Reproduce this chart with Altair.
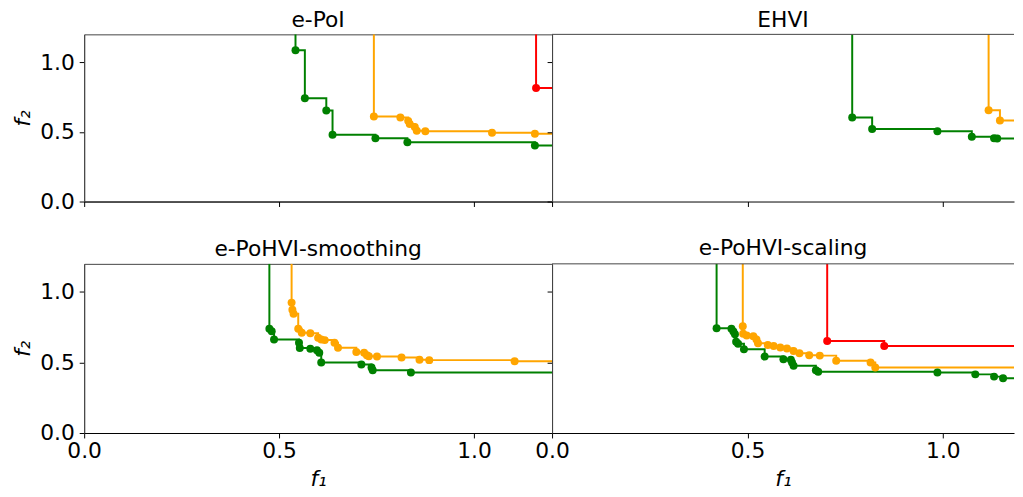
import altair as alt
import pandas as pd

# ---------------- data ----------------
PANELS = ["e-PoI", "EHVI", "e-PoHVI-smoothing", "e-PoHVI-scaling"]
SERIES_COLORS = ["green", "orange", "red"]

# e-PoI
EPOI_GREEN_F1 = [0.542, 0.566, 0.621, 0.637, 0.747, 0.829, 1.156]
EPOI_GREEN_F2 = [1.086, 0.741, 0.654, 0.479, 0.455, 0.425, 0.402]
EPOI_ORANGE_F1 = [0.743, 0.811, 0.831, 0.835, 0.848, 0.853, 0.875, 1.046, 1.156]
EPOI_ORANGE_F2 = [0.610, 0.603, 0.579, 0.556, 0.535, 0.508, 0.505, 0.493, 0.486]
EPOI_RED_F1 = [1.159]
EPOI_RED_F2 = [0.815]

# EHVI
EHVI_GREEN_F1 = [0.768, 0.819, 0.986, 1.074, 1.131, 1.139]
EHVI_GREEN_F2 = [0.603, 0.521, 0.505, 0.465, 0.455, 0.453]
EHVI_ORANGE_F1 = [1.117, 1.146]
EHVI_ORANGE_F2 = [0.656, 0.582]

# e-PoHVI-smoothing
SMOOTH_GREEN_F1 = [0.475, 0.481, 0.487, 0.551, 0.553, 0.580, 0.597, 0.603, 0.608,
                   0.711, 0.737, 0.740, 0.838]
SMOOTH_GREEN_F2 = [0.739, 0.722, 0.664, 0.640, 0.603, 0.598, 0.587, 0.570, 0.500,
                   0.486, 0.465, 0.446, 0.430]
SMOOTH_ORANGE_F1 = [0.532, 0.534, 0.537, 0.549, 0.558, 0.580, 0.600, 0.608, 0.617,
                    0.642, 0.651, 0.698, 0.718, 0.725, 0.730, 0.751, 0.814, 0.860,
                    0.885, 1.104]
SMOOTH_ORANGE_F2 = [0.925, 0.874, 0.846, 0.739, 0.711, 0.708, 0.676, 0.664, 0.659,
                    0.640, 0.605, 0.575, 0.570, 0.552, 0.545, 0.542, 0.535, 0.519,
                    0.517, 0.509]

# e-PoHVI-scaling
SCALE_GREEN_F1 = [0.421, 0.459, 0.464, 0.468, 0.471, 0.476, 0.491, 0.544, 0.592,
                  0.611, 0.614, 0.618, 0.675, 0.681, 0.986, 1.083, 1.131, 1.154]
SCALE_GREEN_F2 = [0.743, 0.739, 0.720, 0.701, 0.648, 0.634, 0.594, 0.542, 0.524,
                  0.519, 0.500, 0.477, 0.446, 0.434, 0.430, 0.416, 0.400, 0.388]
SCALE_ORANGE_F1 = [0.488, 0.489, 0.498, 0.515, 0.523, 0.527, 0.552, 0.567, 0.584,
                   0.601, 0.618, 0.633, 0.658, 0.685, 0.727, 0.815, 0.827]
SCALE_ORANGE_F2 = [0.757, 0.704, 0.692, 0.687, 0.664, 0.636, 0.624, 0.617, 0.606,
                   0.599, 0.582, 0.566, 0.552, 0.549, 0.512, 0.500, 0.465]
SCALE_RED_F1 = [0.704, 0.850]
SCALE_RED_F2 = [0.652, 0.617]

SERIES = {
    "e-PoI": [("green", EPOI_GREEN_F1, EPOI_GREEN_F2),
              ("orange", EPOI_ORANGE_F1, EPOI_ORANGE_F2),
              ("red", EPOI_RED_F1, EPOI_RED_F2)],
    "EHVI": [("green", EHVI_GREEN_F1, EHVI_GREEN_F2),
             ("orange", EHVI_ORANGE_F1, EHVI_ORANGE_F2)],
    "e-PoHVI-smoothing": [("green", SMOOTH_GREEN_F1, SMOOTH_GREEN_F2),
                          ("orange", SMOOTH_ORANGE_F1, SMOOTH_ORANGE_F2)],
    "e-PoHVI-scaling": [("green", SCALE_GREEN_F1, SCALE_GREEN_F2),
                        ("orange", SCALE_ORANGE_F1, SCALE_ORANGE_F2),
                        ("red", SCALE_RED_F1, SCALE_RED_F2)],
}

X_TICKS = [0.0, 0.5, 1.0]
Y_TICKS = [0.0, 0.5, 1.0]
Y_MAX = 1.2
LEFT_X_MAX = 1.2
RIGHT_X_MAX = 1.182  # right column is cut at the picture edge

FONT = "DejaVu Sans"
FS = 22
PANEL_W_LEFT = 473
PANEL_W_RIGHT = 467
PANEL_H_TOP = 169
PANEL_H_BOTTOM = 171


def panel(name, col, row):
    xmax = LEFT_X_MAX if col == 0 else RIGHT_X_MAX
    pts, steps = [], []
    for color, f1, f2 in SERIES[name]:
        for a, b in zip(f1, f2):
            pts.append({"f1": a, "f2": b, "c": color})
        # staircase reaches the top frame and the right frame
        seq = [(f1[0], Y_MAX)] + list(zip(f1, f2)) + [(xmax, f2[-1])]
        for i, (a, b) in enumerate(seq):
            steps.append({"f1": a, "f2": b, "c": color, "i": i})
    pts_df = pd.DataFrame(pts)
    steps_df = pd.DataFrame(steps)

    xaxis = alt.Axis(values=X_TICKS, format=".1f", grid=False, labels=(row == 1),
                     title="f₁" if row == 1 else None, tickSize=5, labelPadding=3,
                     labelFlush=False, titleFontStyle="italic", titlePadding=7,
                     domainColor="black", tickColor="black")
    yaxis = alt.Axis(values=Y_TICKS, format=".1f", grid=False, labels=(col == 0),
                     title="f₂" if col == 0 else None, tickSize=5, labelPadding=5,
                     titleFontStyle="italic", titlePadding=5,
                     domainColor="#444", tickColor="black")
    x = alt.X("f1:Q", scale=alt.Scale(domain=[0, xmax], nice=False, zero=False), axis=xaxis)
    y = alt.Y("f2:Q", scale=alt.Scale(domain=[0, Y_MAX], nice=False, zero=False), axis=yaxis)

    line = alt.Chart(steps_df).mark_line(interpolate="step-after", strokeWidth=2, clip=True).encode(
        x=x, y=y, color=alt.Color("c:N", scale=None), detail="c:N", order="i:Q")
    dots = alt.Chart(pts_df).mark_point(filled=True, shape="circle", size=65, opacity=1,
                                        clip=True).encode(
        x=x, y=y, color=alt.Color("c:N", scale=None))
    layers = [line, dots]
    props = dict(width=PANEL_W_LEFT if col == 0 else PANEL_W_RIGHT,
                 height=PANEL_H_TOP if row == 0 else PANEL_H_BOTTOM,
                 title=alt.TitleParams(name, fontSize=FS, font=FONT, fontWeight="normal",
                                       baseline="alphabetic", offset=-15 if row == 0 else -14,
                                       color="black", frame="group"))
    if col == 1:
        top = alt.Chart(pd.DataFrame({"f2": [Y_MAX]})).mark_rule(color="#444", strokeWidth=1).encode(
            y=alt.Y("f2:Q", scale=alt.Scale(domain=[0, Y_MAX], nice=False, zero=False), axis=yaxis))
        layers.append(top)
        props["view"] = alt.ViewBackground(stroke=None)
    return alt.layer(*layers).properties(**props)


charts = [panel(PANELS[0], 0, 0), panel(PANELS[1], 1, 0),
          panel(PANELS[2], 0, 1), panel(PANELS[3], 1, 1)]

chart = alt.concat(*charts, columns=2, spacing={"row": 63, "column": 0},
                   bounds="flush", align="each").properties(
    padding={"left": 3, "top": -2, "right": 0, "bottom": 0}
).configure_view(stroke="#444", strokeWidth=1).configure_axis(
    labelFont=FONT, titleFont=FONT, labelFontSize=FS, titleFontSize=FS,
    labelColor="black", titleColor="black", titleFontWeight="normal"
)

chart.save("out.html", embed_options={"renderer": "svg", "actions": False})
